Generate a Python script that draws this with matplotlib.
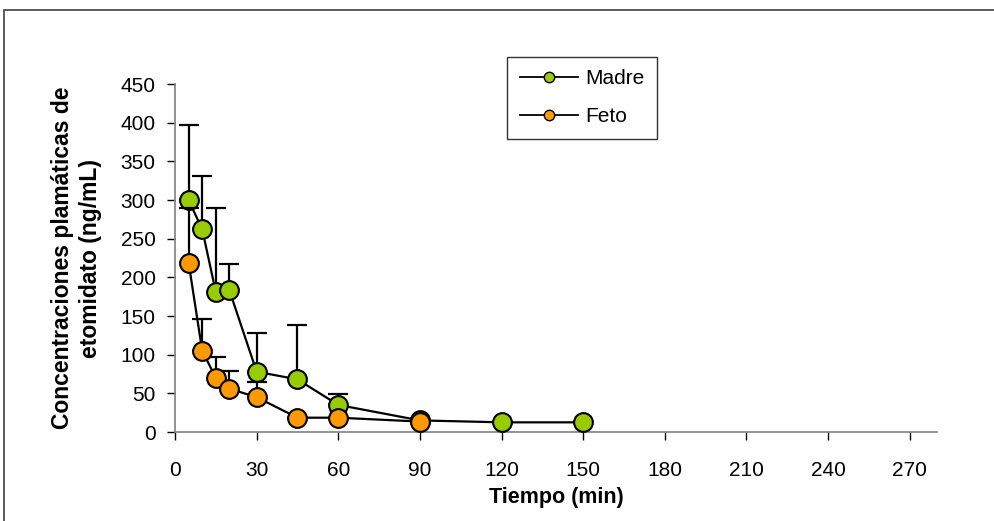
import matplotlib
matplotlib.use("Agg")
import matplotlib.pyplot as plt
from matplotlib.patches import Rectangle
from matplotlib.lines import Line2D

plt.rcParams['font.family'] = ['Liberation Sans', 'DejaVu Sans']

# Data
t_madre = [5, 10, 15, 20, 30, 45, 60, 90, 120, 150]
madre = [300, 262, 181, 183, 78, 68, 35, 15, 12.5, 12.5]
madre_err = [97, 69, 109, 34, 50, 70, 14, 3, 0, 0]

t_feto = [5, 10, 15, 20, 30, 45, 60, 90]
feto = [219, 105, 70, 56, 45, 18.5, 18.5, 13.5]
feto_err = [71, 41, 27, 23, 20, 0, 0, 0]

xticks = [0, 30, 60, 90, 120, 150, 180, 210, 240, 270]
yticks = [0, 50, 100, 150, 200, 250, 300, 350, 400, 450]

W, H = 995, 521
fig = plt.figure(figsize=(W / 100, H / 100), dpi=100)
ax = fig.add_axes([175 / W, 1 - 432 / H, (937 - 175) / W, (432 - 84) / H])

green = '#99CC00'
orange = '#FF9900'

for t, v, e, c, z in [(t_madre, madre, madre_err, green, 3),
                      (t_feto, feto, feto_err, orange, 4)]:
    ax.errorbar(t, v, yerr=[[0] * len(e), e], fmt='none', ecolor='black',
                elinewidth=1.6, capsize=7.5, capthick=1.6, zorder=z - 1)
    ax.plot(t, v, '-', color='black', lw=1.6, zorder=z)
    ax.plot(t, v, 'o', color=c, mec='black', mew=1.5, ms=13.5, zorder=z)

# legend proxies
h1 = Line2D([], [], color='black', lw=1.3, marker='o', mfc=green, mec='black', ms=7.5, mew=1)
h2 = Line2D([], [], color='black', lw=1.3, marker='o', mfc=orange, mec='black', ms=7.5, mew=1)
leg = fig.legend([h1, h2], ['Madre', 'Feto'], loc='upper left',
                 bbox_to_anchor=(507 / W, 1 - 57 / H), fontsize=15,
                 frameon=True, fancybox=False, edgecolor='black',
                 handlelength=2.8, borderpad=0.6, labelspacing=0.9,
                 handletextpad=0.35, borderaxespad=0)
leg.get_frame().set_linewidth(1.0)

ax.set_xlim(0, 280)
ax.set_ylim(0, 450)
ax.set_xticks(xticks)
ax.set_yticks(yticks)
ax.tick_params(axis='both', direction='out', length=6, width=1, labelsize=15, colors='black')
ax.tick_params(axis='x', pad=15)
ax.tick_params(axis='y', pad=8)
for s in ['top', 'right']:
    ax.spines[s].set_visible(False)
for s in ['left', 'bottom']:
    ax.spines[s].set_color('#808080')
    ax.spines[s].set_linewidth(1.2)

ax.set_xlabel('Tiempo (min)', fontsize=15.5, fontweight='bold', labelpad=5)
ax.set_ylabel('Concentraciones plamáticas de\netomidato (ng/mL)', fontsize=16.5,
              fontweight='bold', labelpad=13, linespacing=1.3)

fig.patches.append(Rectangle((4 / W, -0.1), 1.2, 1 - 10 / H + 0.1,
                             transform=fig.transFigure, fill=False,
                             edgecolor='#404040', lw=1.2))

fig.savefig('out.png', dpi=100)
